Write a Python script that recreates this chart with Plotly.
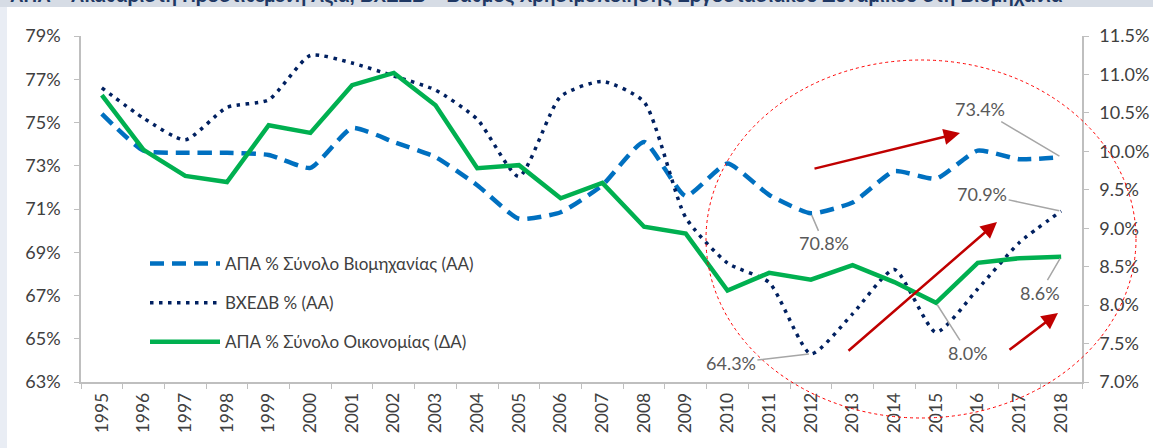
import plotly.graph_objects as go

years = [str(y) for y in range(1995, 2019)]

# ΑΠΑ % Σύνολο Βιομηχανίας (ΑΑ) – left axis
industry_gva = [75.4, 73.7, 73.6, 73.6, 73.5, 72.9, 74.75, 74.1, 73.4, 72.1, 70.55, 70.85,
                72.1, 74.1, 71.6, 73.1, 71.65, 70.8, 71.3, 72.75, 72.4, 73.7, 73.3, 73.4]
# ΒΧΕΔΒ % (ΑΑ) – left axis
capacity_util = [76.6, 75.2, 74.2, 75.7, 76.05, 78.1, 77.75, 77.15, 76.5, 75.15, 72.5, 76.2,
                 76.9, 75.95, 70.6, 68.5, 67.6, 64.3, 66.15, 68.2, 65.3, 67.3, 69.45, 70.9]
# ΑΠΑ % Σύνολο Οικονομίας (ΔΑ) – right axis
economy_gva = [10.73, 10.02, 9.68, 9.6, 10.34, 10.24, 10.86, 11.02, 10.6, 9.78, 9.82, 9.39,
               9.59, 9.02, 8.93, 8.19, 8.42, 8.33, 8.52, 8.3, 8.03, 8.55, 8.61, 8.63]

names = ["ΑΠΑ % Σύνολο Βιομηχανίας (ΑΑ)", "ΒΧΕΔΒ % (ΑΑ)", "ΑΠΑ % Σύνολο Οικονομίας (ΔΑ)"]
title_text = "ΑΠΑ – Ακαθάριστη Προστιθέμενη Αξία, ΒΧΕΔΒ – Βαθμός Χρησιμοποίησης Εργοστασιακού Δυναμικού στη Βιομηχανία"

FONT = "Lato"
W, H = 1153, 448
L, R, T, B = 81, 71, 36, 66
PW, PH = W - L - R, H - T - B


def px(x):
    return (x - L) / PW


def py(y):
    return (H - B - y) / PH


fig = go.Figure()
fig.add_trace(go.Scatter(x=years, y=industry_gva, name=names[0], mode="lines",
                         line=dict(color="#0070C0", width=4.5, dash="14px,8px", shape="spline", smoothing=0.5),
                         legendgroup="a"))
fig.add_trace(go.Scatter(x=years, y=capacity_util, name=names[1], mode="lines",
                         line=dict(color="#002060", width=3.5, dash="3.5px,5.5px", shape="spline", smoothing=0.6),
                         legendgroup="b"))
fig.add_trace(go.Scatter(x=years, y=economy_gva, name=names[2], mode="lines", yaxis="y2",
                         line=dict(color="#00B050", width=4.5), legendgroup="c"))

axis_common = dict(showline=True, linecolor="#BFBFBF", linewidth=1.5, ticks="outside",
                   tickcolor="#BFBFBF", ticklen=5, showgrid=False, zeroline=False, automargin=False,
                   tickfont=dict(family=FONT, size=18, color="#404040"))
x_common = {k: v for k, v in axis_common.items() if k != "tickfont"}

fig.update_layout(
    width=W, height=H,
    margin=dict(l=L, r=R, t=T, b=B),
    paper_bgcolor="white", plot_bgcolor="white",
    font=dict(family=FONT, color="#404040"),
    xaxis=dict(type="category", tickangle=-90, tickson="boundaries", range=[-0.5, 23.5],
               tickfont=dict(family=FONT, size=17.5, color="#404040"), ticklabelstandoff=2, **x_common),
    yaxis=dict(range=[63, 79], dtick=2, tick0=63, ticksuffix="%", ticklabelstandoff=10, **axis_common),
    yaxis2=dict(range=[7.0, 11.5], dtick=0.5, tick0=7.0, tickformat=".1f", ticksuffix="%",
                overlaying="y", side="right", ticklabelstandoff=7, **axis_common),
    legend=dict(x=px(145), y=py(246), xanchor="left", yanchor="top", bgcolor="rgba(0,0,0,0)",
                font=dict(family=FONT, size=17, color="#404040"), tracegroupgap=14, itemwidth=70),
    showlegend=True,
)

# background strips (page frame)
fig.add_shape(type="rect", xref="paper", yref="paper", x0=px(0), x1=px(7), y0=py(H), y1=py(0),
              fillcolor="#E9EDF4", line_width=0, layer="below")
fig.add_shape(type="rect", xref="paper", yref="paper", x0=px(0), x1=px(W), y0=py(7), y1=py(0),
              fillcolor="#D6DCE5", line_width=0, layer="below")
fig.add_annotation(text="<b>" + title_text + "</b>", xref="paper", yref="paper", x=px(8), y=py(9),
                   xanchor="left", yanchor="bottom", showarrow=False,
                   font=dict(family="Liberation Sans", size=18.8, color="#1F3864"))

# red dotted ellipse
fig.add_shape(type="circle", xref="paper", yref="paper", x0=px(706), x1=px(1136), y0=py(418), y1=py(60),
              line=dict(color="#FF0000", width=1, dash="dot"))

# value labels with leader lines (x given as category index)
lab_font = dict(family=FONT, size=18, color="#595959")
labels = [
    (23, industry_gva[23], "y", -81, -48),
    (23, capacity_util[23], "y", -79, -17),
    (17, industry_gva[17], "y", 13, 30),
    (17, capacity_util[17], "y", -80, 9),
    (20, economy_gva[20], "y2", 32, 50),
    (23, economy_gva[23], "y2", -21, 36),
]
for i, y, yr, ax, ay in labels:
    fig.add_annotation(x=i, y=y, xref="x", yref=yr, text=f"{y:.1f}%", showarrow=True, arrowhead=0,
                       arrowwidth=1.5, arrowcolor="#A6A6A6", ax=ax, ay=ay, font=lab_font,
                       standoff=2)

# red trend arrows (head, tail in px)
arrows = [((960, 133), (813, 169)), ((997, 222), (847, 352)), ((1058, 313), (1008, 351))]
for (hx, hy), (tx, ty) in arrows:
    fig.add_annotation(x=px(hx), y=py(hy), xref="paper", yref="paper", text="", showarrow=True,
                       arrowhead=2, arrowsize=1.3, arrowwidth=2.5, arrowcolor="#C00000",
                       ax=tx - hx, ay=ty - hy)

fig.write_html("out.html", post_script="document.body.style.margin='0';",
               config={"displayModeBar": False})
